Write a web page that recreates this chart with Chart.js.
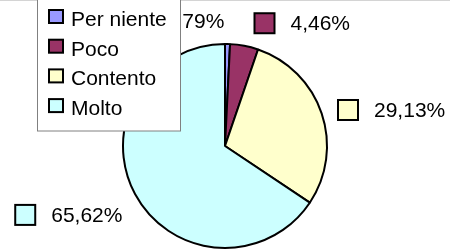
<!DOCTYPE html>
<html>
<head>
<meta charset="utf-8">
<script src="https://cdn.jsdelivr.net/npm/chart.js@4"></script>
<style>
  html, body { margin: 0; padding: 0; background: #fff; }
  #wrap { width: 450px; height: 250px; }
</style>
</head>
<body>
<div id="wrap"><canvas id="chart" width="450" height="250"></canvas></div>
<script>
const categories = ['Per niente', 'Poco', 'Contento', 'Molto'];
const percentages = [0.79, 4.46, 29.13, 65.62];
const sliceColors = ['#9999FF', '#993366', '#FFFFCC', '#CCFFFF'];
const valueLabels = percentages.map(v => v.toFixed(2).replace('.', ',') + '%');

const FONT = '21px "Liberation Sans", Arial, sans-serif';

// frame line, legend box and outside labels
const decorations = {
    id: 'decorations',
    beforeDraw(chart) {
        const ctx = chart.ctx;
        ctx.save();
        ctx.fillStyle = '#fff';
        ctx.fillRect(0, 0, chart.width, chart.height);
        ctx.strokeStyle = '#d4d4d4';
        ctx.lineWidth = 1;
        ctx.beginPath();
        ctx.moveTo(0, 0.5);
        ctx.lineTo(chart.width, 0.5);
        ctx.stroke();
        ctx.restore();
    },
    afterDraw(chart) {
        const ctx = chart.ctx;
        const meta = chart.getDatasetMeta(0);
        // nudges so labels sit where the original put them
        const nudge = [[-107, 0], [0, 0], [-3, 4], [6, 10]];
        ctx.save();
        ctx.font = FONT;
        ctx.textBaseline = 'middle';
        meta.data.forEach((arc, i) => {
            const p = arc.getProps(['x', 'y', 'startAngle', 'endAngle', 'outerRadius'], true);
            const mid = (p.startAngle + p.endAngle) / 2;
            const dx = Math.cos(mid), dy = Math.sin(mid);
            const ax = p.x + (p.outerRadius + 12) * dx;
            const ay = p.y + (p.outerRadius + 12) * dy;
            const tw = ctx.measureText(valueLabels[i]).width;
            const w = 20 + 16 + tw;
            let left = dx >= 0 ? ax + 8 : ax - 8 - w;
            let cy = ay + dy * 11;
            left += nudge[i][0];
            cy += nudge[i][1];
            ctx.fillStyle = sliceColors[i];
            ctx.strokeStyle = '#000';
            ctx.lineWidth = 2;
            ctx.fillRect(left, cy - 10, 20, 20);
            ctx.strokeRect(left, cy - 10, 20, 20);
            ctx.fillStyle = '#000';
            ctx.fillText(valueLabels[i], left + 36, cy + 1);
        });

        // legend box on top of the pie
        ctx.fillStyle = '#fff';
        ctx.fillRect(37, -2, 143, 133);
        ctx.strokeStyle = '#808080';
        ctx.lineWidth = 1;
        ctx.strokeRect(37.5, -2, 143, 133);
        ctx.textBaseline = 'alphabetic';
        categories.forEach((name, i) => {
            const y = 10 + i * 29.7;
            ctx.fillStyle = sliceColors[i];
            ctx.fillRect(49, y, 14, 13);
            ctx.strokeStyle = '#000';
            ctx.lineWidth = 2;
            ctx.strokeRect(49, y, 14, 13);
            ctx.fillStyle = '#000';
            ctx.fillText(name, 71, y + 16);
        });
        ctx.restore();
    }
};

new Chart(document.getElementById('chart'), {
    type: 'pie',
    data: {
        labels: categories,
        datasets: [{
            data: percentages,
            backgroundColor: sliceColors,
            borderColor: '#000',
            borderWidth: 2
        }]
    },
    options: {
        responsive: false,
        animation: false,
        devicePixelRatio: 1,
        layout: { padding: { left: 122, right: 122, top: 43, bottom: 1 } },
        plugins: {
            legend: { display: false },
            tooltip: { enabled: false },
            title: { display: false }
        }
    },
    plugins: [decorations]
});
</script>
</body>
</html>
